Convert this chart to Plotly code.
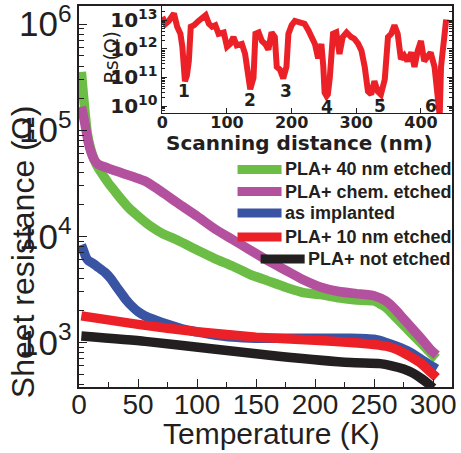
import plotly.graph_objects as go

# ---- main panel: sheet resistance (log10 of Ω) vs temperature (K) ----
t_40nm = [2, 3, 5, 7, 10, 13, 16, 20, 25, 30, 35, 42, 50, 60, 70, 84, 100, 115,
          130, 145, 160, 175, 190, 205, 220, 235, 250, 260, 268, 276, 284, 292,
          298, 303]
lg_40nm = [5.55, 5.42, 5.18, 4.97, 4.82, 4.72, 4.65, 4.58, 4.50, 4.43, 4.36, 4.27,
           4.19, 4.10, 4.03, 3.96, 3.87, 3.79, 3.72, 3.64, 3.58, 3.52, 3.47, 3.45,
           3.42, 3.40, 3.39, 3.33, 3.24, 3.15, 3.06, 2.97, 2.90, 2.85]

t_chem = [2, 4, 6, 8, 10, 13, 16, 20, 25, 30, 38, 46, 56, 66, 75, 84, 100, 115,
          130, 145, 160, 175, 190, 205, 220, 235, 250, 260, 268, 276, 284, 292,
          298, 303]
lg_chem = [5.22, 5.12, 5.00, 4.88, 4.80, 4.72, 4.68, 4.66, 4.64, 4.62, 4.59, 4.56,
           4.52, 4.45, 4.38, 4.31, 4.19, 4.07, 3.97, 3.87, 3.77, 3.68, 3.59, 3.52,
           3.48, 3.46, 3.44, 3.39, 3.31, 3.21, 3.11, 3.01, 2.93, 2.88]

t_impl = [2, 4, 6, 8, 11, 16, 22, 27, 32, 36, 40, 44, 50, 56, 65, 75, 90, 110,
          130, 150, 175, 200, 230, 250, 260, 270, 280, 290, 297, 303]
lg_impl = [3.92, 3.86, 3.80, 3.77, 3.75, 3.71, 3.66, 3.60, 3.52, 3.46, 3.40, 3.35,
           3.29, 3.25, 3.21, 3.17, 3.12, 3.08, 3.05, 3.04, 3.04, 3.04, 3.04, 3.03,
           3.00, 2.96, 2.91, 2.84, 2.79, 2.75]

t_10nm = [2, 50, 100, 150, 200, 230, 250, 262, 270, 280, 290, 298, 303]
lg_10nm = [3.25, 3.17, 3.10, 3.05, 3.02, 3.00, 2.98, 2.96, 2.93, 2.87, 2.80, 2.72,
           2.67]

t_none = [2, 56, 112, 169, 230, 255, 265, 275, 283, 290, 296, 300]
lg_none = [3.06, 3.01, 2.94, 2.87, 2.81, 2.80, 2.78, 2.75, 2.71, 2.66, 2.61, 2.57]

series = [
    ("PLA+ 40 nm etched", t_40nm, lg_40nm, "#6cbd45"),
    ("PLA+ chem. etched", t_chem, lg_chem, "#b4519f"),
    ("as implanted", t_impl, lg_impl, "#3a54a4"),
    ("PLA+ 10 nm etched", t_10nm, lg_10nm, "#ec2027"),
    ("PLA+ not etched", t_none, lg_none, "#231f20"),
]

# ---- inset: log10 of Rs along a scanning line ----
scan_nm = [0, 5, 10, 18, 23, 28, 31, 33, 35, 38, 41, 44, 49, 56, 62, 67, 72, 77,
           82, 87, 95, 100, 105, 110, 115, 123, 128, 133, 136, 141, 144, 149, 154,
           159, 164, 169, 174, 177, 182, 187, 192, 195, 200, 205, 213, 220, 226,
           231, 236, 241, 246, 249, 251, 254, 256, 259, 264, 269, 274, 279, 285,
           292, 297, 303, 308, 313, 318, 323, 328, 333, 338, 344, 349, 354, 359,
           364, 369, 374, 379, 385, 390, 395, 400, 405, 410, 415, 421, 426, 429,
           431, 436, 439]
rs_log10 = [13.11, 12.87, 12.97, 13.23, 12.77, 12.52, 12.07, 11.07, 10.87, 11.07,
            11.57, 12.77, 12.82, 12.97, 13.11, 13.17, 12.87, 12.77, 12.82, 12.52,
            12.57, 12.07, 12.17, 12.41, 12.12, 12.17, 11.82, 11.11, 10.59, 10.99,
            12.52, 12.57, 12.27, 12.17, 11.97, 12.57, 12.41, 11.37, 11.27, 10.97,
            11.37, 12.52, 12.82, 12.97, 12.93, 12.87, 12.64, 12.41, 12.17, 11.67,
            12.17, 11.37, 10.47, 10.35, 10.41, 10.99, 12.52, 12.57, 11.82, 12.41,
            12.57, 12.41, 12.35, 12.17, 11.93, 11.37, 10.52, 10.41, 10.87, 10.52,
            10.41, 10.93, 12.41, 12.52, 12.82, 12.52, 11.64, 11.77, 11.57, 11.87,
            11.37, 11.93, 12.27, 11.57, 11.70, 11.87, 11.37, 9.93, 9.67, 11.37,
            12.77, 13.02]

site_labels = ["1", "2", "3", "4", "5", "6"]
site_nm = [33, 136, 192, 254, 336, 415]
site_log10 = [10.52, 10.23, 10.52, 9.96, 9.99, 9.99]

FONT = "Liberation Sans"
WIDE = "DejaVu Sans"
INK = "#231f20"

fig = go.Figure()
for name, t, lg, color in series:
    fig.add_trace(go.Scatter(
        x=t, y=[10 ** v for v in lg], name=name, mode="lines", showlegend=False,
        line=dict(color=color, width=9.5, shape="spline", smoothing=0.5),
        xaxis="x", yaxis="y",
    ))

fig.add_trace(go.Scatter(
    x=scan_nm, y=[10 ** v for v in rs_log10], mode="lines", showlegend=False,
    line=dict(color="#ec2027", width=6),
    xaxis="x2", yaxis="y2",
))

for lab, d, v in zip(site_labels, site_nm, site_log10):
    fig.add_annotation(
        x=d, y=v, xref="x2", yref="y2", text=lab, showarrow=False,
        xanchor="center", yanchor="middle",
        font=dict(family=WIDE, size=17, color=INK, weight="bold"),
    )

# legend block: a thick stroke and a bold label for each series
leg_rows_y = [0.571, 0.513, 0.457, 0.394, 0.336]
leg_x0 = [0.425, 0.425, 0.425, 0.425, 0.487]
leg_len = 0.118
for (name, _, _, color), ly, lx in zip(series, leg_rows_y, leg_x0):
    fig.add_shape(type="line", xref="paper", yref="paper",
                  x0=lx, x1=lx + leg_len, y0=ly, y1=ly,
                  line=dict(color=color, width=9))
    fig.add_annotation(x=lx + leg_len, y=ly, xref="paper", yref="paper",
                       text=name, showarrow=False, xanchor="left",
                       yanchor="middle", xshift=1,
                       font=dict(family=FONT, size=18, color=INK, weight="bold"))

# axis titles
title_specs = [
    (-0.150, 0.354, "Sheet resistance (Ω)", -90, FONT, 32, "normal"),
    (0.517, -0.122, "Temperature (K)", 0, FONT, 30, "normal"),
    (0.59, 0.640, "Scanning distance (nm)", 0, WIDE, 20, "bold"),
    (0.087, 0.866, "Rs(Ω)", -90, WIDE, 19, "normal"),
]
for tx, ty, text, angle, fam, size, weight in title_specs:
    fig.add_annotation(x=tx, y=ty, xref="paper", yref="paper", text=text,
                       textangle=angle, showarrow=False,
                       xanchor="center", yanchor="middle",
                       font=dict(family=fam, size=size, color=INK, weight=weight))

main_axis = dict(
    showline=True, linecolor=INK, linewidth=1.6, mirror=True, automargin=False,
    ticks="inside", tickcolor=INK, tickwidth=1.4, ticklen=8,
    showgrid=False, zeroline=False, ticklabeloverflow="allow",
    tickfont=dict(family=FONT, size=28, color=INK),
)
inset_axis = dict(
    showline=True, linecolor=INK, linewidth=1.4, automargin=False,
    ticks="inside", tickcolor=INK, tickwidth=1.2, ticklen=5,
    showgrid=False, zeroline=False, ticklabeloverflow="allow",
    tickfont=dict(family=WIDE, size=16, color=INK, weight="bold"),
)

fig.update_layout(
    width=461, height=453,
    margin=dict(l=79, r=9, t=6, b=66),
    paper_bgcolor="white", plot_bgcolor="white",
    showlegend=False,
    xaxis=dict(
        **main_axis, domain=[0, 1], range=[0, 316], dtick=50,
        ticklabelstandoff=-8,
        minor=dict(dtick=25, ticks="inside", ticklen=5, tickcolor=INK),
    ),
    yaxis=dict(
        **main_axis, type="log", domain=[0, 1], range=[2.58, 6.17], dtick=1,
        exponentformat="power", ticklabelstandoff=0,
        minor=dict(ticks="inside", ticklen=5, tickcolor=INK),
    ),
    xaxis2=dict(
        **inset_axis, anchor="y2", domain=[0.2225, 1.0], range=[-0.5, 448],
        dtick=100, mirror=True, ticklabelstandoff=-5,
    ),
    yaxis2=dict(
        **inset_axis, anchor="x2", domain=[0.719, 1.0], type="log",
        range=[9.76, 13.49], dtick=1, exponentformat="power", mirror="ticks",
        minor=dict(ticks="inside", ticklen=3, tickcolor=INK),
    ),
)

fig.write_html("out.html")
